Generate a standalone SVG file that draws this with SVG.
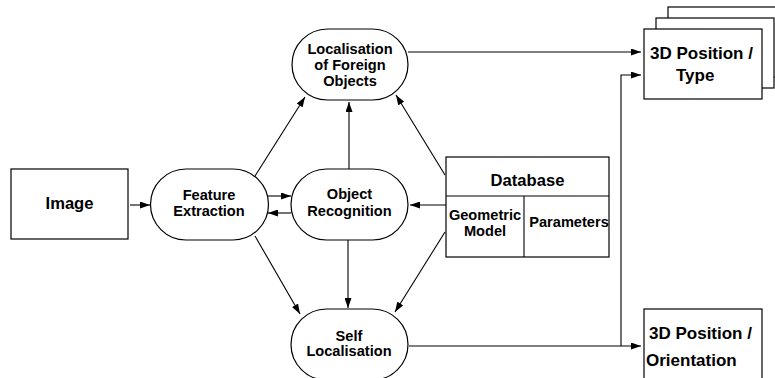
<svg xmlns="http://www.w3.org/2000/svg" width="775" height="378" viewBox="0 0 775 378">
<defs>
<marker id="ah" markerWidth="10" markerHeight="7" refX="10" refY="3.5" orient="auto" markerUnits="userSpaceOnUse">
<path d="M0,0 L10,3.5 L0,7 z" fill="#000"/>
</marker>
<style>
.n{fill:#fff;stroke:#000;stroke-width:1.2}
.t{font-family:"Liberation Sans",Arial,sans-serif;font-weight:bold;font-size:14.6px;text-anchor:middle;fill:#000}
.b{font-size:16.6px}
.p{font-size:17px;text-anchor:start}
.c{fill:none;stroke:#000;stroke-width:1.1}
.a{marker-end:url(#ah)}
</style>
</defs>
<rect width="775" height="378" fill="#fff"/>
<g id="connectors">
<line class="c a" x1="130" y1="205" x2="150" y2="205"/>
<line class="c a" x1="268" y1="196" x2="291" y2="196"/>
<line class="c a" x1="291" y1="213" x2="268" y2="213"/>
<line class="c a" x1="255" y1="176" x2="305" y2="97"/>
<line class="c a" x1="349" y1="169" x2="349" y2="102"/>
<line class="c a" x1="445" y1="175" x2="396" y2="95"/>
<line class="c a" x1="446" y1="205" x2="410" y2="205"/>
<line class="c a" x1="255" y1="236" x2="300" y2="314"/>
<line class="c a" x1="348" y1="240" x2="348" y2="308"/>
<line class="c a" x1="445" y1="232" x2="395" y2="312"/>
<line class="c a" x1="408" y1="52" x2="641" y2="52"/>
<line class="c a" x1="409" y1="346" x2="641" y2="346"/>
<polyline class="c a" points="621,346 621,75 641,75"/>
</g>
<g id="image">
<rect class="n" x="11" y="169" width="117" height="70"/>
<text class="t b" x="69.5" y="209">Image</text>
</g>
<g id="feature-extraction">
<rect class="n" x="150.5" y="169" width="118" height="71" rx="35.5" ry="35.5"/>
<text class="t" x="209" y="200">Feature</text>
<text class="t" x="209" y="216">Extraction</text>
</g>
<g id="object-recognition">
<rect class="n" x="291" y="169" width="117" height="71" rx="35.5" ry="35.5"/>
<text class="t" x="349.5" y="199">Object</text>
<text class="t" x="349.5" y="216">Recognition</text>
</g>
<g id="localisation-foreign">
<rect class="n" x="292" y="29" width="116" height="71" rx="35.5" ry="35.5"/>
<text class="t" x="350" y="54">Localisation</text>
<text class="t" x="350" y="70">of Foreign</text>
<text class="t" x="350" y="86">Objects</text>
</g>
<g id="self-localisation">
<rect class="n" x="291" y="309" width="117" height="71" rx="35.5" ry="35.5"/>
<text class="t" x="349" y="341">Self</text>
<text class="t" x="349" y="356">Localisation</text>
</g>
<g id="database">
<rect class="n" x="446" y="157" width="163" height="100"/>
<line class="c" x1="446" y1="196" x2="609" y2="196"/>
<line class="c" x1="524" y1="196" x2="524" y2="257"/>
<text class="t b" x="527.5" y="186">Database</text>
<text class="t" x="485" y="220">Geometric</text>
<text class="t" x="485" y="236">Model</text>
<text class="t" x="569" y="227">Parameters</text>
</g>
<g id="position-type">
<rect class="n" x="668" y="7" width="118" height="70"/>
<rect class="n" x="656" y="18" width="118" height="70"/>
<rect class="n" x="644" y="29" width="118" height="70"/>
<text class="t p" x="650" y="59">3D Position /</text>
<text class="t p" x="676" y="81">Type</text>
</g>
<g id="position-orientation">
<rect class="n" x="644" y="309" width="118" height="80"/>
<text class="t p" x="649" y="339">3D Position /</text>
<text class="t p" x="646" y="366">Orientation</text>
</g>
</svg>
